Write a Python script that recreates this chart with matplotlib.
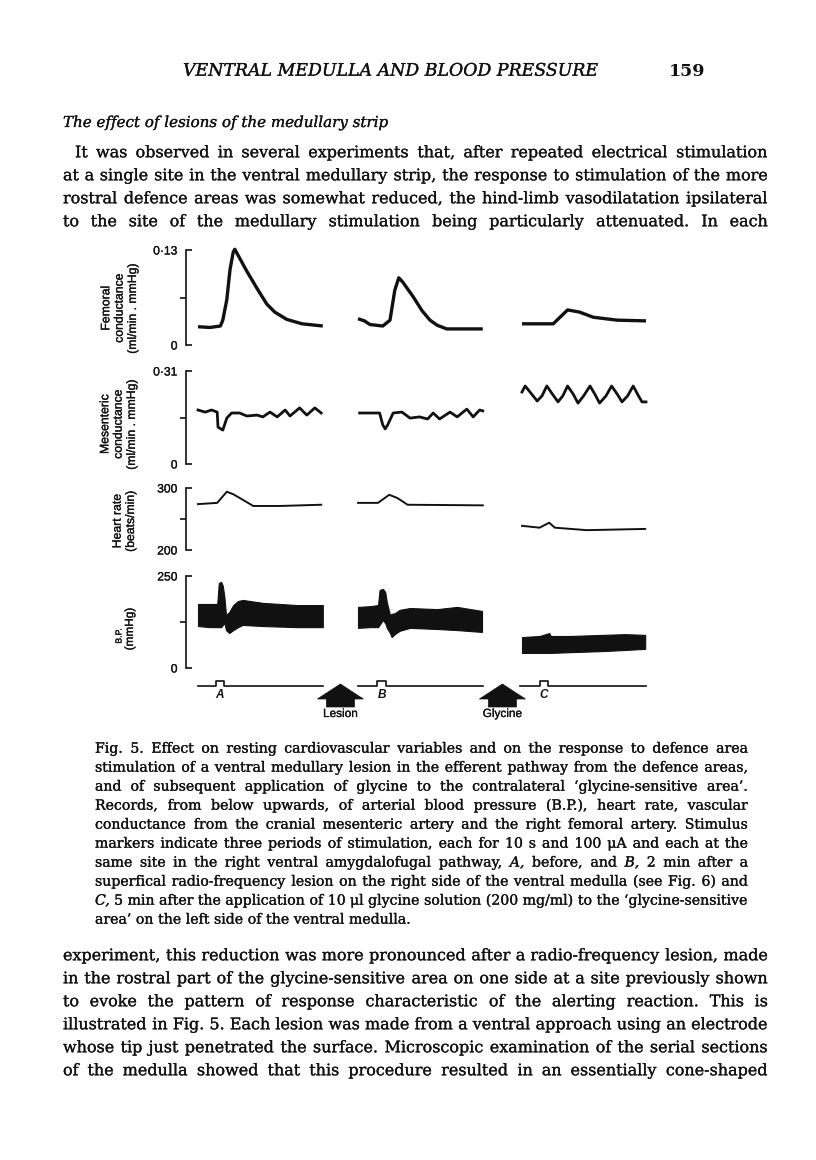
import numpy as np
import matplotlib
matplotlib.use('Agg')
import matplotlib.pyplot as plt
import matplotlib.patheffects as pe
from matplotlib.patches import Polygon
from matplotlib.transforms import blended_transform_factory

W, H = 816, 1160
INK = '#111111'
SANS = 'Liberation Sans'
SERIF = 'DejaVu Serif'
plt.rcParams['font.family'] = SANS
HEAVY = [pe.withStroke(linewidth=0.2, foreground=INK)]

# ---- the three runs (time in s from the start of each run) ----
runs = ['A', 'B', 'C']
run_start = [0, 200, 405]      # where each run sits on the cut time axis
run_end = [156, 156, 155]
stim_on = [22, 24, 22]
stim_off = [32, 35, 32]
gap_labels = ['Lesion', 'Glycine']

# femoral conductance (ml/min . mmHg)
fem_t_A = [0, 15, 28, 31, 36, 40, 44, 46, 52, 61, 74, 86, 96, 111, 130, 156]
fem_A = [0.025, 0.024, 0.026, 0.034, 0.062, 0.103, 0.127, 0.131, 0.119, 0.101,
         0.077, 0.056, 0.045, 0.035, 0.029, 0.026]
fem_t_B = [0, 8, 15, 31, 40, 46, 51, 56, 69, 80, 90, 99, 111, 156]
fem_B = [0.036, 0.033, 0.028, 0.026, 0.034, 0.075, 0.092, 0.086, 0.066, 0.047,
         0.034, 0.027, 0.022, 0.022]
fem_t_C = [0, 39, 57, 72, 89, 119, 155]
fem_C = [0.029, 0.029, 0.048, 0.045, 0.038, 0.034, 0.033]

# mesenteric conductance (ml/min . mmHg)
mes_t_A = [0, 9, 17, 24, 25, 31, 36, 42, 52, 61, 74, 81, 90, 99, 109, 115, 127, 136, 146, 154]
mes_A = [0.180, 0.173, 0.180, 0.173, 0.123, 0.113, 0.153, 0.170, 0.170, 0.160,
         0.163, 0.157, 0.173, 0.157, 0.180, 0.160, 0.187, 0.163, 0.187, 0.170]
mes_t_B = [2, 15, 27, 31, 34, 37, 44, 55, 65, 77, 87, 94, 102, 115, 124, 136, 144, 152, 156]
mes_B = [0.170, 0.170, 0.170, 0.130, 0.117, 0.130, 0.170, 0.173, 0.153, 0.157,
         0.150, 0.170, 0.150, 0.173, 0.157, 0.183, 0.157, 0.180, 0.177]
mes_t_C = [0, 4, 10, 19, 25, 31, 37, 45, 51, 57, 64, 70, 77, 85, 91, 97, 105, 112,
           119, 125, 132, 139, 145, 150, 155]
mes_C = [0.240, 0.260, 0.240, 0.210, 0.227, 0.260, 0.237, 0.207, 0.227, 0.260,
         0.233, 0.203, 0.227, 0.260, 0.233, 0.203, 0.227, 0.260, 0.233, 0.207,
         0.227, 0.260, 0.230, 0.207, 0.207]

# heart rate (beats/min)
hr_t_A = [0, 24, 36, 44, 56, 69, 102, 154]
hr_A = [274, 276, 294, 290, 281, 271, 271, 273]
hr_t_B = [0, 15, 25, 39, 49, 62, 156]
hr_B = [276, 276, 276, 289, 284, 273, 272]
hr_t_C = [0, 22, 34, 41, 81, 154]
hr_C = [239, 236, 244, 236, 232, 234]

# blood pressure envelope (mmHg): systolic top, diastolic bottom
bp_t_A = [0, 15, 24, 26, 29, 31, 33, 35, 39, 44, 50, 56, 81, 124, 156]
bp_hi_A = [174, 174, 174, 231, 234, 223, 193, 144, 152, 171, 182, 185, 177, 171, 171]
bp_lo_A = [114, 111, 111, 111, 111, 117, 122, 103, 95, 103, 111, 117, 114, 111, 111]
bp_t_B = [0, 15, 25, 27, 31, 34, 36, 40, 42, 46, 52, 65, 99, 124, 155]
bp_hi_B = [166, 168, 171, 212, 215, 207, 179, 144, 147, 149, 158, 163, 160, 166, 155]
bp_lo_B = [109, 111, 111, 117, 130, 122, 109, 95, 84, 92, 101, 109, 106, 103, 98]
bp_t_C = [0, 22, 34, 36, 60, 101, 129, 154]
bp_hi_C = [84, 87, 95, 87, 87, 90, 92, 90]
bp_lo_C = [41, 41, 41, 41, 43, 46, 49, 52]

# axis scales and labels
fem_lim, fem_ticks = (0, 0.13), ['0', '0·13']
mes_lim, mes_ticks = (0, 0.31), ['0', '0·31']
hr_lim, hr_ticks = (200, 300), ['200', '300']
bp_lim, bp_ticks = (0, 250), ['0', '250']

# ---- page text ----
header = 'VENTRAL MEDULLA AND BLOOD PRESSURE'
page_no = '159'
heading = 'The effect of lesions of the medullary strip'
para1 = [
    'It was observed in several experiments that, after repeated electrical stimulation',
    'at a single site in the ventral medullary strip, the response to stimulation of the more',
    'rostral defence areas was somewhat reduced, the hind-limb vasodilatation ipsilateral',
    'to the site of the medullary stimulation being particularly attenuated. In each',
]
caption = [
    'Fig. 5. Effect on resting cardiovascular variables and on the response to defence area',
    'stimulation of a ventral medullary lesion in the efferent pathway from the defence areas,',
    'and of subsequent application of glycine to the contralateral ‘glycine-sensitive area’.',
    'Records, from below upwards, of arterial blood pressure (B.P.), heart rate, vascular',
    'conductance from the cranial mesenteric artery and the right femoral artery. Stimulus',
    'markers indicate three periods of stimulation, each for 10 s and 100 μA and each at the',
    'same site in the right ventral amygdalofugal pathway, _A, before, and _B, 2 min after a',
    'superfical radio-frequency lesion on the right side of the ventral medulla (see Fig. 6) and',
    '_C, 5 min after the application of 10 μl glycine solution (200 mg/ml) to the ‘glycine-sensitive',
    'area’ on the left side of the ventral medulla.',
]
para2 = [
    'experiment, this reduction was more pronounced after a radio-frequency lesion, made',
    'in the rostral part of the glycine-sensitive area on one side at a site previously shown',
    'to evoke the pattern of response characteristic of the alerting reaction. This is',
    'illustrated in Fig. 5. Each lesion was made from a ventral approach using an electrode',
    'whose tip just penetrated the surface. Microscopic examination of the serial sections',
    'of the medulla showed that this procedure resulted in an essentially cone-shaped',
]

fig = plt.figure(figsize=(W / 100, H / 100), dpi=100)
fig.patch.set_facecolor('white')
renderer = fig.canvas.get_renderer()


def fx(x):
    return x / W


def fy(y):
    return 1 - y / H


def width_of(s, size, family, style='normal', weight='normal'):
    t = fig.text(0, 0, s, fontsize=size, family=family, style=style, weight=weight)
    w = t.get_window_extent(renderer).width
    t.remove()
    return w


def fit_size(lines, avail, family, style='normal'):
    ref = 10.0
    return min(ref * a / width_of(l.replace('_', ''), ref, family, style)
               for l, a in zip(lines, avail))


def set_par(lines, x0, x1, y0, dy, size, family, indent=0, ragged_last=False):
    space = width_of('a a', size, family) - width_of('aa', size, family)
    base = 0.33 * size * 100 / 72
    for i, line in enumerate(lines):
        xs = x0 + (indent if i == 0 else 0)
        y = y0 + i * dy + base
        words = []
        for w in line.split(' '):
            st = 'normal'
            if w.startswith('_'):
                w, st = w[1:], 'italic'
            words.append(fig.text(0, 0, w, fontsize=size, family=family, style=st,
                                  color=INK, va='baseline', path_effects=HEAVY))
        ws = [t.get_window_extent(renderer).width for t in words]
        if len(words) > 1 and not (ragged_last and i == len(lines) - 1):
            gap = (x1 - xs - sum(ws)) / (len(words) - 1)
        else:
            gap = space
        x = xs
        for t, w in zip(words, ws):
            t.set_position((fx(x), fy(y)))
            x += w + gap


# header line
hs = fit_size([header], [415], SERIF, 'italic')
fig.text(fx(183), fy(70 + 0.33 * hs * 100 / 72), header, fontsize=hs, family=SERIF,
         style='italic', color=INK, va='baseline', path_effects=HEAVY)
fig.text(fx(705), fy(70 + 0.33 * hs * 100 / 72), page_no, fontsize=hs, family=SERIF,
         weight='bold', color=INK, va='baseline', ha='right')

body_size = fit_size(para1 + para2, [693] + [705] * 3 + [705] * 6, SERIF)
head_size = min(body_size, fit_size([heading], [325], SERIF, 'italic'))
fig.text(fx(63), fy(122 + 0.33 * head_size * 100 / 72), heading, fontsize=head_size,
         family=SERIF, style='italic', color=INK, va='baseline', path_effects=HEAVY)
set_par(para1, 63, 768, 152, 23, body_size, SERIF, indent=12)
set_par(para2, 63, 768, 955, 23, body_size, SERIF)

cap_size = fit_size(caption[:-1], [653] * 9, SERIF)
set_par(caption, 95, 748, 748, 19, cap_size, SERIF, ragged_last=True)

# ---- the record ----
X0, X1 = 186, 660
T0, T1 = -15, 577.5   # 0.8 px per s, run A starts at x = 198


def panel(y_top, y_bot, lim, ticklabels):
    ax = fig.add_axes([fx(X0), fy(y_bot), (X1 - X0) / W, (y_bot - y_top) / H])
    ax.set_xlim(T0, T1)
    ax.set_ylim(*lim)
    for s in ['top', 'right', 'bottom']:
        ax.spines[s].set_visible(False)
    ax.spines['left'].set_linewidth(1.2)
    ax.spines['left'].set_color(INK)
    ax.set_xticks([])
    ax.set_yticks(list(lim))
    ax.set_yticklabels(ticklabels)
    ax.set_yticks([(lim[0] + lim[1]) / 2], minor=True)
    ax.tick_params(axis='y', which='major', direction='in', length=4, width=1.2,
                   pad=6, labelsize=8.7, colors=INK)
    ax.tick_params(axis='y', which='minor', direction='out', length=4, width=1.2,
                   colors=INK)
    for t in ax.get_yticklabels():
        t.set_path_effects(HEAVY)
    ax.patch.set_alpha(0)
    return ax


ax_fem = panel(250, 345, fem_lim, fem_ticks)
ax_mes = panel(371, 464, mes_lim, mes_ticks)
ax_hr = panel(488, 550, hr_lim, hr_ticks)
ax_bp = panel(576, 668, bp_lim, bp_ticks)

for i, (tt, vv) in enumerate([(fem_t_A, fem_A), (fem_t_B, fem_B), (fem_t_C, fem_C)]):
    ax_fem.plot(np.array(tt) + run_start[i], vv, color=INK, lw=2.4, clip_on=False,
                solid_joinstyle='round', solid_capstyle='butt')
for i, (tt, vv) in enumerate([(mes_t_A, mes_A), (mes_t_B, mes_B), (mes_t_C, mes_C)]):
    ax_mes.plot(np.array(tt) + run_start[i], vv, color=INK, lw=2.0, clip_on=False,
                solid_joinstyle='round')
for i, (tt, vv) in enumerate([(hr_t_A, hr_A), (hr_t_B, hr_B), (hr_t_C, hr_C)]):
    ax_hr.plot(np.array(tt) + run_start[i], vv, color=INK, lw=1.4, clip_on=False)
for i, (tt, hi, lo) in enumerate([(bp_t_A, bp_hi_A, bp_lo_A), (bp_t_B, bp_hi_B, bp_lo_B),
                                  (bp_t_C, bp_hi_C, bp_lo_C)]):
    ax_bp.fill_between(np.array(tt) + run_start[i], lo, hi, color=INK, lw=0.8,
                       edgecolor=INK)

# y labels
lab_kw = dict(rotation=90, ha='right', va='center', multialignment='center',
              fontsize=8.8, linespacing=1.15, color=INK, path_effects=HEAVY)
fig.text(fx(139), fy(308), 'Femoral\nconductance\n(ml/min . mmHg)', **lab_kw)
fig.text(fx(138), fy(424), 'Mesenteric\nconductance\n(ml/min . mmHg)', **lab_kw)
fig.text(fx(137), fy(521), 'Heart rate\n(beats/min)', **lab_kw)
fig.text(fx(136), fy(629), '(mmHg)', rotation=90, ha='right', va='center',
         fontsize=8.5, color=INK, path_effects=HEAVY)
fig.text(fx(119), fy(636), 'B.P.', rotation=90, ha='center', va='center',
         fontsize=6.3, color=INK, path_effects=HEAVY)

# stimulus marker
ax_s = fig.add_axes([fx(X0), fy(692), (X1 - X0) / W, 14 / H])
ax_s.set_xlim(T0, T1)
ax_s.set_ylim(-1.2, 1.6)
ax_s.axis('off')
lab_tr = blended_transform_factory(ax_s.transData, ax_s.transAxes)
for i, r in enumerate(runs):
    s0 = run_start[i]
    ts = np.array([-2 if r == 'C' else 0, stim_on[i], stim_on[i], stim_off[i],
                   stim_off[i], run_end[i]]) + s0
    ax_s.plot(ts, [0, 0, 1, 1, 0, 0], color=INK, lw=1.2, clip_on=False)
    ax_s.text(s0 + (stim_on[i] + stim_off[i]) / 2, -0.22, r, transform=lab_tr,
              ha='center', va='center', style='italic', weight='bold', fontsize=8.5,
              color=INK)

# arrows between runs
for i, lab in enumerate(gap_labels):
    tc = (run_start[i] + run_end[i] + run_start[i + 1]) / 2
    cx = ax_s.transData.transform((tc, 0))[0]
    pts = [(cx, 684), (cx + 23, 699), (cx + 14, 699), (cx + 14, 707),
           (cx - 14, 707), (cx - 14, 699), (cx - 23, 699)]
    fig.add_artist(Polygon([(fx(a), fy(b)) for a, b in pts], closed=True,
                           transform=fig.transFigure, facecolor=INK, edgecolor=INK,
                           lw=0.5))
    fig.text(fx(cx), fy(714), lab, ha='center', va='center', fontsize=8.5, color=INK,
             path_effects=HEAVY)

fig.savefig('out.png', dpi=100, facecolor='white')
